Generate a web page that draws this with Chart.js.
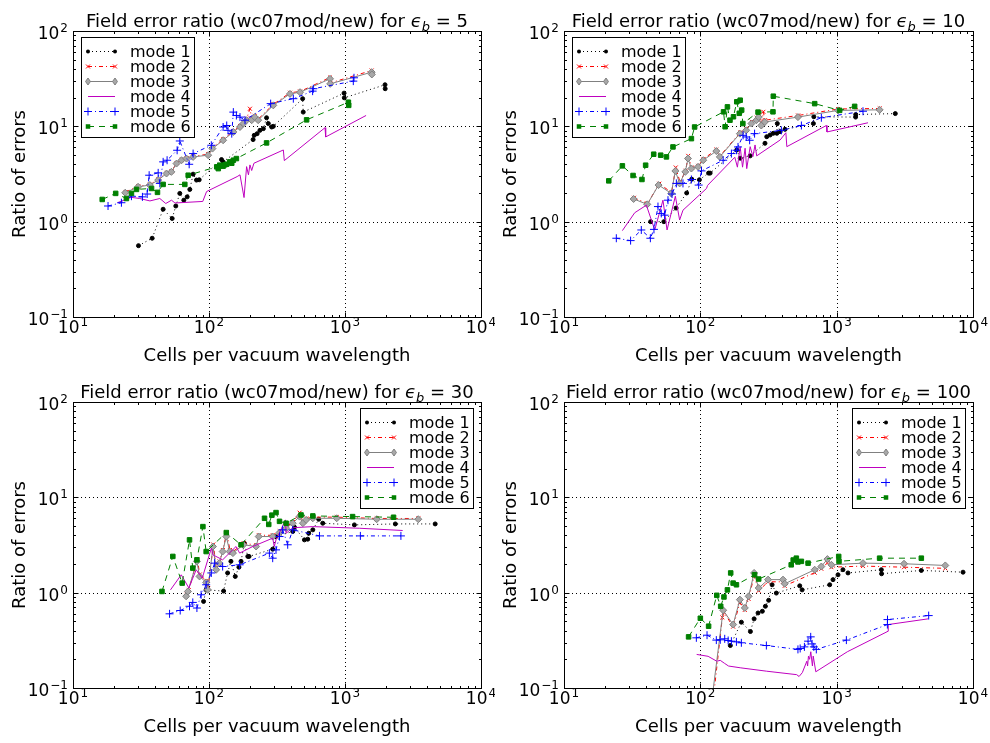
<!DOCTYPE html>
<html>
<head>
<meta charset="utf-8">
<script src="https://cdn.jsdelivr.net/npm/chart.js@4.4.0/dist/chart.umd.min.js"></script>
<style>
  html, body { margin: 0; padding: 0; background: #fff; }
  #wrap { position: relative; width: 990px; height: 743px; }
  canvas { position: absolute; }
</style>
</head>
<body>
<div id="wrap">
  <canvas id="c1" width="495" height="371" style="left:0;top:0"></canvas>
  <canvas id="c2" width="495" height="371" style="left:495px;top:0"></canvas>
  <canvas id="c3" width="495" height="372" style="left:0;top:371px"></canvas>
  <canvas id="c4" width="495" height="372" style="left:495px;top:371px"></canvas>
</div>
<script>
// panel values and tick labels
const epsValues = [5, 10, 30, 100];
const modeLabels = ['mode 1', 'mode 2', 'mode 3', 'mode 4', 'mode 5', 'mode 6'];
const xTickValues = [10, 100, 1000, 10000];
const yTickValues = [0.1, 1, 10, 100];
const xTickExps = ['1', '2', '3', '4'];
const yTickExps = ['\u22121', '0', '1', '2'];

// eps_b = 5   [cells per vacuum wavelength, ratio of errors]
const eps5Mode1 = [[30.3,0.56],[38.2,0.67],[46,1.35],[53.6,1.08],[57,1.46],[61,1.98],[65.3,1.68],[69.1,1.82],[72.3,2.18],[76.4,3.15],[80.9,2.73],[84.7,2.75],[123.6,4.48],[127,4.24],[211,7.26],[215,8.05],[226,8.38],[237,9.08],[251,9.46],[265,12.3],[273,10.7],[289,9.84],[297,10],[488,19.5],[493,14.1],[984,22.3],[988,19.9],[1969,27.3],[1975,24.8]];
const eps5Mode2 = [[24.4,2.05],[30.2,2.35],[36.8,2.45],[42.5,2.78],[48.9,3.25],[53,3.38],[57.8,4.12],[63,4.45],[68.5,4.62],[76.6,4.85],[98.8,5.1],[106,6.0],[127,7.3],[151,8.9],[169,10.1],[179,11],[189,12.0],[200,15.3],[206,12.2],[217,12.8],[230,11.9],[297,17.0],[394,22.5],[467,23.2],[776,32.5],[778,28.5],[1570,38.5],[1575,36]];
const eps5Mode3 = [[24.2,2.01],[30.1,2.32],[36.7,2.42],[42.3,2.73],[48.7,3.2],[52.9,3.33],[57.7,4.07],[62.8,4.41],[68.3,4.59],[76.4,4.78],[98.6,4.98],[106,5.84],[127,7.14],[151,8.73],[169,9.84],[179,10.7],[189,11.6],[206,11.6],[217,12.5],[230,11.6],[297,16.6],[394,21.9],[467,22.8],[776,31.5],[778,27.9],[1570,37],[1575,35]];
const eps5Mode4 = [[21.2,1.58],[26.8,1.8],[30.9,1.75],[36.8,1.65],[43.5,1.75],[48.1,1.55],[53,1.68],[56.2,1.57],[90,1.63],[96,2.07],[161,2.97],[169,3.1],[181,1.79],[189,3.78],[195,3.1],[200,3.94],[206,3.44],[214,4.1],[352,5.65],[358,4.37],[713,9.68],[721,7.74],[1429,13.0]];
const eps5Mode5 = [[18.1,1.46],[22.7,1.58],[26.9,1.85],[32.4,1.82],[35.1,1.95],[36.3,3.07],[42.3,3.25],[43.5,2.52],[46,4.24],[49.2,4.41],[58.3,5.61],[61,7.02],[71.5,4.0],[76.4,5.18],[104,6.33],[127,9.84],[135,10.2],[138,9.08],[147,8.38],[151,14.1],[159,13],[169,12.5],[184,11.6],[284,17.3],[417,19.5],[578,23.4],[585,24.8],[1151,29.8],[1164,32.3]];
const eps5Mode6 = [[16.4,1.71],[20.6,1.98],[24.7,1.75],[26.9,1.98],[29.3,2.18],[37.8,2.23],[41.8,2.03],[46,2.46],[66.4,2.46],[70.3,3.07],[114,3.76],[117,3.6],[120,3.91],[127,3.82],[131,3.95],[135,4.0],[142,4.24],[147,4.1],[151,4.41],[159,4.59],[265,6.7],[522,11.7],[1059,17.9],[1065,16.6]];

// eps_b = 10
const eps10Mode1 = [[43.2,1.0],[54,1.0],[66.4,1.39],[79.4,2.0],[86.5,2.79],[98.4,2.75],[115,3.23],[118,3.23],[185,5.65],[196,4.63],[232,4.9],[298,6.64],[307,7.79],[325,8.11],[343,8.45],[364,8.45],[367,10.7],[385,8.8],[418,9.3],[675,10.7],[680,12.6],[1377,12.5],[1380,13.3],[2692,13.6]];
const eps10Mode2 = [[32.6,1.78],[41,1.55],[50,2.5],[61.5,2.02],[66,3.7],[71,2.6],[78,3.42],[81.5,4.9],[86.5,3.7],[96.5,3.85],[105.5,4.55],[131,5.7],[139.5,4.9],[196,8.6],[218,9.4],[238,11.2],[259,12.3],[268,14.0],[282,10.8],[290,14.2],[298,11.6],[521,13.0],[1025,15.2],[2070,15.4]];
const eps10Mode3 = [[32.4,1.73],[40.8,1.52],[49.4,2.42],[61.2,1.98],[65.6,3.4],[70.5,2.52],[77.6,3.33],[81.2,4.6],[86,3.61],[96.2,3.76],[105,4.41],[131,5.5],[139,4.78],[195,8.38],[217,9.08],[237,10.7],[258,11.6],[268,12.5],[280,10.2],[297,11.1],[520,12.5],[1023,14.7],[2065,14.9]];
const eps10Mode4 = [[26.8,0.805],[33,1.24],[40.2,1.49],[46.3,0.818],[53.2,1.68],[57,0.818],[65.6,1.85],[70.5,1.04],[74.6,1.32],[111,2.23],[113,2.4],[179,4.74],[187,3.73],[196,6.12],[204,3.73],[213,5.89],[219,3.6],[232,6.12],[243,4.82],[252,6.38],[259,4.9],[385,7.19],[424,8.57],[431,6.12],[840,10.2],[849,8.73],[1698,10.9]];
const eps10Mode5 = [[24.2,0.67],[30.8,0.633],[36.9,0.818],[43,0.67],[45.7,0.83],[48.9,1.44],[51.7,1.22],[54.7,1.17],[57.9,1.68],[62,1.95],[66.7,2.52],[74.6,2.52],[86,2.77],[97.2,2.42],[102,3.41],[147,4.41],[169,5.18],[184,5.61],[189,6.08],[206,8.05],[217,7.74],[230,7.14],[250,8.38],[393,9.08],[551,10.2],[772,12.3],[1560,14.4]];
const eps10Mode6 = [[21.3,2.68],[26.8,3.85],[32.1,3.05],[37.3,2.77],[39.7,3.91],[45.5,5.1],[51.2,4.98],[56.4,4.78],[63,6.08],[86,7.43],[90.8,9.84],[148,14.2],[152,9.9],[158,16],[165,11.6],[175,12.6],[185,18.1],[193,13.7],[196,18.8],[201,14.8],[205,10.7],[265,14.1],[341,14.2],[343,20.7],[690,17.3],[1052,14.7],[1355,16.2]];

// eps_b = 30
const eps30Mode1 = [[91.2,0.81],[95.3,1.07],[128,1.04],[137,1.61],[145,2.13],[156,1.48],[166,1.85],[172,2.13],[182,3.3],[193,2.4],[197,2.4],[294,2.86],[311,3.88],[413,4.38],[425,4.86],[503,3.58],[532,3.64],[541,4.2],[580,4.56],[641,5.89],[686,5.35],[1172,5.14],[2344,5.26],[4604,5.26]];
const eps30Mode2 = [[68.5,0.95],[71,1.06],[82,2.25],[85.5,1.55],[95.8,1.33],[98.5,1.1],[107.5,3.2],[113.5,1.82],[119.5,2.12],[126.5,2.8],[135,4.27],[142.5,2.8],[150.5,2.7],[180,3.3],[223,3.15],[233,4.0],[295,4.0],[331,4.4],[370,4.9],[414,5.5],[464,6.9],[491,5.5],[519,6.0],[581,6.2],[870,6.2],[1712,6.0],[3465,6.0]];
const eps30Mode3 = [[67.9,0.916],[70,1.03],[81.5,2.13],[85.2,1.48],[95.3,1.28],[98,1.07],[107,3.05],[113,1.74],[119,2.04],[126,2.7],[134,3.88],[142,2.7],[150,2.6],[179,3.18],[222,3.05],[232,3.88],[294,3.88],[330,4.27],[369,4.74],[413,5.35],[463,6.28],[490,5.35],[518,5.8],[580,6.03],[869,6.03],[1710,5.89],[3459,5.89]];
const eps30Mode4 = [[52.1,1.07],[62.5,1.54],[71.1,1.12],[80.5,1.74],[89.2,1.42],[104,2.93],[107,2.49],[126,2.21],[158,3.05],[168,2.6],[210,3.05],[294,3.73],[302,3.05],[311,3.58],[365,5.8],[369,4.2],[413,4.8],[580,4.93],[1274,4.74],[2655,4.49]];
const eps30Mode5 = [[51.3,0.6],[61.4,0.65],[71.9,0.72],[76,0.79],[81.5,0.69],[87.5,0.95],[95.3,1.21],[104,1.61],[110,2.04],[126,1.88],[168,1.96],[278,2.6],[294,2.3],[311,2.81],[330,3.88],[348,4.56],[379,3.18],[413,4.56],[649,3.94],[1297,3.94],[2577,3.94]];
const eps30Mode6 = [[45.1,1.03],[54.2,2.4],[63.5,1.26],[71.9,3.58],[76,1.81],[81.5,2.21],[90.2,4.93],[95.3,2.7],[134,4.27],[172,3.18],[256,6.03],[275,5.2],[290,6.5],[311,6.92],[330,5.6],[369,5.35],[475,6.53],[580,6.38],[1137,6.28],[2275,6.18]];

// eps_b = 100
const eps100Mode1 = [[166,0.279],[200,0.49],[233,0.391],[248,0.531],[265,0.612],[285,0.638],[300,0.72],[317,0.832],[336,1.21],[361,0.99],[536,1.18],[558,1.07],[889,1.21],[940,1.37],[1023,1.54],[1112,1.74],[1211,1.61],[2128,1.74],[2135,1.58],[4178,1.71],[8451,1.64]];
const eps100Mode2 = [[126,0.09],[145,0.55],[149,0.62],[174,0.44],[195,0.78],[212,0.66],[226,0.86],[248,1.5],[268,1.05],[314,1.3],[404,1.3],[416,1.18],[690,1.62],[772,1.78],[855,2.05],[915,1.85],[1560,1.9],[3119,1.85],[6266,1.8]];
const eps100Mode3 = [[120,0.065],[147,0.654],[174,0.463],[195,0.845],[212,0.692],[226,0.916],[248,1.61],[268,1.12],[314,1.37],[404,1.37],[416,1.24],[690,1.74],[772,1.88],[855,2.25],[915,1.96],[1560,2.04],[3119,2.01],[6266,1.93]];
const eps100Mode4 = [[94,0.225],[114,0.215],[132,0.191],[140,0.195],[150,0.182],[161,0.17],[196,0.163],[307,0.15],[509,0.138],[530,0.132],[560,0.145],[604,0.191],[612,0.17],[621,0.216],[633,0.2],[646,0.24],[664,0.17],[673,0.216],[703,0.148],[1197,0.24],[2383,0.394],[2390,0.463],[4677,0.531]];
const eps100Mode5 = [[93.5,0.336],[112,0.358],[131,0.318],[140,0.32],[151,0.328],[160,0.315],[169,0.31],[184,0.305],[200,0.298],[305,0.279],[520,0.254],[540,0.26],[580,0.27],[617,0.31],[645,0.344],[660,0.29],[680,0.27],[709,0.254],[1178,0.318],[2355,0.463],[2360,0.522],[4731,0.575]];
const eps100Mode6 = [[82,0.344],[100,0.539],[115,0.445],[132,0.938],[141,0.72],[149,0.901],[158,1.07],[167,1.61],[174,1.26],[184,1.21],[250,1.54],[268,1.39],[464,1.96],[480,2.2],[506,2.3],[520,2.1],[551,2.13],[617,2.04],[1035,2.4],[1040,2.13],[2065,2.3],[4178,2.3]];

const panelSeries = [
    [eps5Mode1, eps5Mode2, eps5Mode3, eps5Mode4, eps5Mode5, eps5Mode6],
    [eps10Mode1, eps10Mode2, eps10Mode3, eps10Mode4, eps10Mode5, eps10Mode6],
    [eps30Mode1, eps30Mode2, eps30Mode3, eps30Mode4, eps30Mode5, eps30Mode6],
    [eps100Mode1, eps100Mode2, eps100Mode3, eps100Mode4, eps100Mode5, eps100Mode6]
];

// line / marker look of each mode (matplotlib-ish)
const modeStyles = [
    { color: '#000000', dash: [1, 3], point: 'circle', radius: 2, fill: '#000000', edge: '#000000' },
    { color: '#ff0000', dash: [4, 3, 1, 3], point: 'crossRot', radius: 2.8, fill: '#ff0000', edge: '#ff0000' },
    { color: '#808080', dash: [], point: 'rectRot', radius: 3.5, fill: '#a8a8a8', edge: '#808080' },
    { color: '#bf00bf', dash: [], point: false, radius: 0, fill: '#bf00bf', edge: '#bf00bf' },
    { color: '#0000ff', dash: [4, 3, 1, 3], point: 'cross', radius: 4, fill: '#0000ff', edge: '#0000ff' },
    { color: '#008000', dash: [6, 5], point: 'rect', radius: 3.2, fill: '#008000', edge: '#008000' }
];

const FONT = '"DejaVu Sans", "Liberation Sans", sans-serif';

function drawPow(ctx, exp, x, y, align) {
    // "10" with a raised exponent, like matplotlib's mathtext
    ctx.font = '17px ' + FONT;
    const wb = ctx.measureText('10').width;
    ctx.font = '12px ' + FONT;
    const we = ctx.measureText(exp).width;
    const total = wb + we + 1;
    let x0 = x;
    if (align === 'center') x0 = x - total / 2;
    if (align === 'right') x0 = x - total;
    ctx.textAlign = 'left';
    ctx.textBaseline = 'alphabetic';
    ctx.font = '17px ' + FONT;
    ctx.fillText('10', x0, y);
    ctx.font = '12px ' + FONT;
    ctx.fillText(exp, x0 + wb + 1, y - 7);
}

function drawMarker(ctx, st, x, y) {
    if (!st.point) return;
    ctx.save();
    ctx.setLineDash([]);
    ctx.fillStyle = st.fill;
    ctx.strokeStyle = st.edge;
    ctx.lineWidth = 1;
    const r = st.radius;
    ctx.beginPath();
    if (st.point === 'circle') {
        ctx.arc(x, y, r, 0, Math.PI * 2);
        ctx.fill();
    } else if (st.point === 'rect') {
        const s = r * Math.SQRT1_2;
        ctx.rect(x - s, y - s, 2 * s, 2 * s);
        ctx.fill();
    } else if (st.point === 'rectRot') {
        ctx.moveTo(x, y - r); ctx.lineTo(x + r * 0.7, y); ctx.lineTo(x, y + r); ctx.lineTo(x - r * 0.7, y); ctx.closePath();
        ctx.fill(); ctx.stroke();
    } else if (st.point === 'cross') {
        ctx.moveTo(x - r, y); ctx.lineTo(x + r, y); ctx.moveTo(x, y - r); ctx.lineTo(x, y + r);
        ctx.stroke();
    } else if (st.point === 'crossRot') {
        const s = r * Math.SQRT1_2;
        ctx.moveTo(x - s, y - s); ctx.lineTo(x + s, y + s); ctx.moveTo(x - s, y + s); ctx.lineTo(x + s, y - s);
        ctx.stroke();
    }
    ctx.restore();
}

function minorValues(min, max) {
    const out = [];
    for (let d = min; d < max; d *= 10) {
        for (let k = 2; k <= 9; k++) out.push(d * k);
    }
    return out;
}

const panelDeco = {
    id: 'panelDeco',
    beforeDatasetsDraw(chart) {
        const { ctx, chartArea: a, scales: { x, y } } = chart;
        ctx.save();
        ctx.strokeStyle = '#000';
        ctx.lineWidth = 1;
        ctx.setLineDash([1, 3]);
        xTickValues.forEach(v => {
            const px = Math.round(x.getPixelForValue(v)) + 0.5;
            if (px > a.left + 2 && px < a.right - 2) {
                ctx.beginPath(); ctx.moveTo(px, a.top); ctx.lineTo(px, a.bottom); ctx.stroke();
            }
        });
        yTickValues.forEach(v => {
            const py = Math.round(y.getPixelForValue(v)) + 0.5;
            if (py > a.top + 2 && py < a.bottom - 2) {
                ctx.beginPath(); ctx.moveTo(a.left, py); ctx.lineTo(a.right, py); ctx.stroke();
            }
        });
        ctx.restore();
    },
    afterDatasetsDraw(chart, args, opts) {
        const { ctx, chartArea: a, scales: { x, y } } = chart;
        const L = Math.round(a.left) + 0.5, R = Math.round(a.right) + 0.5;
        const T = Math.round(a.top) + 0.5, B = Math.round(a.bottom) + 0.5;
        ctx.save();
        ctx.setLineDash([]);
        ctx.strokeStyle = '#000';
        ctx.lineWidth = 1;
        ctx.strokeRect(L, T, R - L, B - T);

        // inward ticks on all four sides
        const tick = (v, len, axis) => {
            if (axis === 'x') {
                const px = Math.round(x.getPixelForValue(v)) + 0.5;
                ctx.beginPath();
                ctx.moveTo(px, B); ctx.lineTo(px, B - len);
                ctx.moveTo(px, T); ctx.lineTo(px, T + len);
                ctx.stroke();
            } else {
                const py = Math.round(y.getPixelForValue(v)) + 0.5;
                ctx.beginPath();
                ctx.moveTo(L, py); ctx.lineTo(L + len, py);
                ctx.moveTo(R, py); ctx.lineTo(R - len, py);
                ctx.stroke();
            }
        };
        xTickValues.forEach(v => tick(v, 5, 'x'));
        yTickValues.forEach(v => tick(v, 5, 'y'));
        minorValues(10, 10000).forEach(v => tick(v, 2.5, 'x'));
        minorValues(0.1, 100).forEach(v => tick(v, 2.5, 'y'));

        // tick labels
        ctx.fillStyle = '#000';
        xTickValues.forEach((v, i) => drawPow(ctx, xTickExps[i], x.getPixelForValue(v), a.bottom + 16, 'center'));
        yTickValues.forEach((v, i) => drawPow(ctx, yTickExps[i], a.left - 5, y.getPixelForValue(v) + 8, 'right'));

        // axis titles
        ctx.font = '18px ' + FONT;
        ctx.textAlign = 'center';
        ctx.textBaseline = 'alphabetic';
        ctx.fillText('Cells per vacuum wavelength', (a.left + a.right) / 2, a.bottom + 44);
        ctx.save();
        ctx.translate(a.left - 48, (a.top + a.bottom) / 2);
        ctx.rotate(-Math.PI / 2);
        ctx.fillText('Ratio of errors', 0, 0);
        ctx.restore();

        // panel title with epsilon_b
        const parts = [
            { t: 'Field error ratio (wc07mod/new) for ', f: '18px ' + FONT, dy: 0 },
            { t: '\u03f5', f: 'italic 18px ' + FONT, dy: 0 },
            { t: 'b', f: 'italic 13px ' + FONT, dy: 4 },
            { t: ' = ' + opts.eps, f: '18px ' + FONT, dy: 0 }
        ];
        let tw = 0;
        parts.forEach(p => { ctx.font = p.f; p.w = ctx.measureText(p.t).width; tw += p.w; });
        let tx = (a.left + a.right) / 2 - tw / 2;
        const ty = a.top - 4.5;
        ctx.textAlign = 'left';
        parts.forEach(p => { ctx.font = p.f; ctx.fillText(p.t, tx, ty + p.dy); tx += p.w; });

        // legend box
        const bw = 113, bh = 100;
        const bx = opts.corner === 'left' ? Math.round(a.left) + 8 : Math.round(a.right) - 8 - bw;
        const by = Math.round(a.top) + 6;
        ctx.fillStyle = '#fff';
        ctx.fillRect(bx, by, bw, bh);
        ctx.strokeStyle = '#000';
        ctx.lineWidth = 1;
        ctx.strokeRect(bx + 0.5, by + 0.5, bw, bh);
        modeStyles.forEach((st, i) => {
            const ry = Math.round(by + 13.5 + i * 15.1) + 0.5;
            ctx.save();
            ctx.strokeStyle = st.color;
            ctx.lineWidth = 1;
            ctx.setLineDash(st.dash);
            ctx.beginPath(); ctx.moveTo(bx + 7, ry); ctx.lineTo(bx + 34, ry); ctx.stroke();
            ctx.restore();
            drawMarker(ctx, st, bx + 7, ry);
            drawMarker(ctx, st, bx + 34, ry);
            ctx.fillStyle = '#000';
            ctx.font = '16px ' + FONT;
            ctx.textAlign = 'left';
            ctx.textBaseline = 'middle';
            ctx.fillText(modeLabels[i], bx + 49, ry + 1);
        });
        ctx.restore();
    }
};

const panelPadding = [
    { left: 73, right: 14, top: 31, bottom: 54 },
    { left: 69, right: 17, top: 31, bottom: 54 },
    { left: 73, right: 14, top: 31, bottom: 55 },
    { left: 69, right: 17, top: 31, bottom: 55 }
];
const legendCorner = ['left', 'left', 'right', 'right'];

function makePanel(canvasId, idx) {
    const datasets = panelSeries[idx].map((pts, i) => {
        const st = modeStyles[i];
        return {
            label: modeLabels[i],
            data: pts.map(p => ({ x: p[0], y: p[1] })),
            borderColor: st.color,
            borderWidth: 1,
            borderDash: st.dash,
            pointStyle: st.point,
            pointRadius: st.radius,
            pointBackgroundColor: st.fill,
            pointBorderColor: st.edge,
            pointBorderWidth: 1,
            tension: 0,
            fill: false,
            order: 6 - i
        };
    });
    new Chart(document.getElementById(canvasId), {
        type: 'line',
        data: { datasets },
        options: {
            responsive: false,
            animation: false,
            events: [],
            layout: { padding: panelPadding[idx] },
            scales: {
                x: { type: 'logarithmic', min: 10, max: 10000, display: false },
                y: { type: 'logarithmic', min: 0.1, max: 100, display: false }
            },
            plugins: {
                legend: { display: false },
                tooltip: { enabled: false },
                panelDeco: { eps: epsValues[idx], corner: legendCorner[idx] }
            }
        },
        plugins: [panelDeco]
    });
}

makePanel('c1', 0);
makePanel('c2', 1);
makePanel('c3', 2);
makePanel('c4', 3);
</script>
</body>
</html>
